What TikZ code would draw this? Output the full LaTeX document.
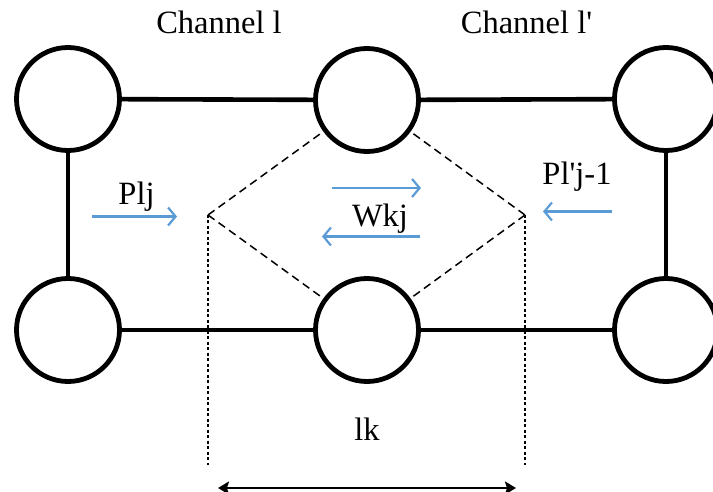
\documentclass[tikz,border=0pt]{standalone}
\usepackage{fontspec}
\setmainfont{Liberation Serif}[Ligatures=TeXOff]
\usetikzlibrary{arrows.meta}
\definecolor{flowblue}{RGB}{91,155,213}
\begin{document}
\begin{tikzpicture}[x=1pt,y=-1pt,
  site/.style={circle,draw,line width=4.8pt,minimum size=103pt,inner sep=0pt,fill=white},
  link/.style={line width=4.6pt},
  lbl/.style={anchor=base,inner sep=0pt,font=\fontsize{32.5}{39}\selectfont},
  flow/.style={flowblue,line width=2.2pt,-{Straight Barb[length=7.5pt,width=18pt,line width=2.2pt]}},
  cell/.style={dash pattern=on 8pt off 5pt,line width=1.5pt},
  guide/.style={dash pattern=on 3pt off 2.5pt,line width=2.8pt},
  span/.style={line width=2.4pt,{Stealth[length=11pt,width=13pt,inset=2pt]}-{Stealth[length=11pt,width=13pt,inset=2pt]}}]
  \clip (0,0) rectangle (713,492);
  \useasboundingbox (0,0) rectangle (713,492);
  % lattice sites
  \node[site] (tl) at (68,99) {};
  \node[site] (tm) at (367,100) {};
  \node[site] (tr) at (666,99) {};
  \node[site] (bl) at (68,330) {};
  \node[site] (bm) at (367,330) {};
  \node[site] (br) at (666,330) {};
  % bonds between sites
  \draw[link] (tl) -- (tm);
  \draw[link] (tm) -- (tr);
  \draw[link] (bl) -- (bm);
  \draw[link] (bm) -- (br);
  \draw[link] (tl) -- (bl);
  \draw[link] (tr) -- (br);
  % cell corners and dimension ends
  \coordinate (cl) at (208,215);
  \coordinate (cr) at (525,215);
  \coordinate (dl) at (208,465);
  \coordinate (dr) at (525,465);
  \coordinate (al) at (218,488);
  \coordinate (ar) at (516,488);
  % dashed cell
  \draw[cell] (cl) -- (tm);
  \draw[cell] (cl) -- (bm);
  \draw[cell] (cr) -- (tm);
  \draw[cell] (cr) -- (bm);
  % dotted guides and width arrow
  \draw[guide] (cl) -- (dl);
  \draw[guide] (cr) -- (dr);
  \draw[span] (al) -- (ar);
  % labels
  \node[lbl] (ch1) at (219,34) {Channel l};
  \node[lbl] (ch2) at (526.5,34) {Channel l'};
  \node[lbl] (plj) at (136.5,205) {Plj};
  \node[lbl] (wkj) at (380,227) {Wkj};
  \node[lbl] (plp) at (577,185) {Pl'j-1};
  \node[lbl] (lk) at (367,440) {lk};
  % flux arrows
  \coordinate (p1) at (92,216.5);
  \coordinate (p2) at (177,216.5);
  \coordinate (w1) at (332,188);
  \coordinate (w2) at (421,188);
  \coordinate (w3) at (420,236.5);
  \coordinate (w4) at (322,236.5);
  \coordinate (q1) at (612,211.5);
  \coordinate (q2) at (543,211.5);
  \draw[flow] (p1) -- (p2);
  \draw[flow] (w1) -- (w2);
  \draw[flow] (w3) -- (w4);
  \draw[flow] (q1) -- (q2);
\end{tikzpicture}
\end{document}
